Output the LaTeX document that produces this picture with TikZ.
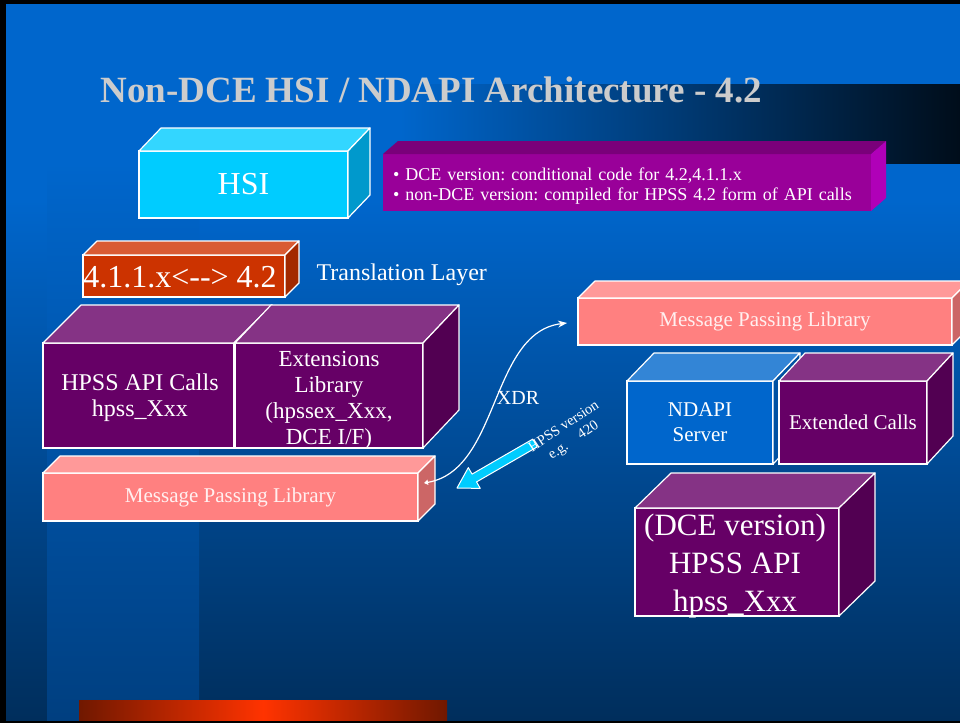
\documentclass[tikz,border=0pt]{standalone}
\usepackage{fontspec}
\setmainfont{Liberation Serif}
\usetikzlibrary{calc,arrows.meta}
\frenchspacing

\definecolor{slideblue}{HTML}{0066CC}
\definecolor{slidedeep}{HTML}{002E5C}
\definecolor{bandlow}{HTML}{003F80}
\definecolor{titlenight}{HTML}{000D1A}
\definecolor{titlegray}{HTML}{CCCCCC}
\definecolor{hsicyan}{HTML}{00CCFF}
\definecolor{hsitop}{HTML}{33D6FF}
\definecolor{hsiside}{HTML}{0099CC}
\definecolor{notemag}{HTML}{990099}
\definecolor{notetop}{HTML}{7A007A}
\definecolor{noteside}{HTML}{B000B8}
\definecolor{transred}{HTML}{CC3300}
\definecolor{transtop}{HTML}{D95B33}
\definecolor{transside}{HTML}{A32900}
\definecolor{apipurple}{HTML}{660066}
\definecolor{apitop}{HTML}{853385}
\definecolor{apiside}{HTML}{520052}
\definecolor{pinkfront}{HTML}{FF8080}
\definecolor{pinktop}{HTML}{FF9999}
\definecolor{pinkside}{HTML}{CC6666}
\definecolor{pinktext}{HTML}{FFF0F0}
\definecolor{ndapiblue}{HTML}{0066CC}
\definecolor{ndapitop}{HTML}{3385D6}
\definecolor{ndapiside}{HTML}{0052A3}
\definecolor{bardark}{HTML}{701800}
\definecolor{barbright}{HTML}{FF3300}

\tikzset{
  face/.style={draw=white, line width=1.2pt, line join=round},
  noline/.style={draw=none},
  cube/.style={rectangle, draw=white, line width=1.2pt, outer sep=0pt, inner sep=0pt,
    text=white, align=center},
  boxtext/.style={text=white, align=center, inner sep=0pt},
}

% top and right faces of a box node: name, top colour, side colour, dx, dy
\newcommand{\cubefaces}[6][face]{%
  \filldraw[#1, fill=#3] (#2.north west) -- ++(#5,#6) -- ($(#2.north east)+(#5,#6)$) -- (#2.north east) -- cycle;
  \filldraw[#1, fill=#4] (#2.north east) -- ++(#5,#6) -- ($(#2.south east)+(#5,#6)$) -- (#2.south east) -- cycle;
}

\begin{document}
\begin{tikzpicture}[x=1pt, y=-1pt]
    \useasboundingbox (0,0) rectangle (960,723);

    % slide background
    \fill[black] (0,0) rectangle (960,723);
    \fill[slideblue] (6,4) rectangle (960,200);
    \shade[top color=slideblue, bottom color=slidedeep] (6,200) rectangle (960,720);
    \shade[top color=slideblue, bottom color=bandlow] (47,163) rectangle (199,720);
    \shade[left color=slideblue, right color=titlenight] (400,84) rectangle (960,163);
    \shade[left color=bardark, right color=bardark, middle color=barbright] (79,700) rectangle (447,720);

    % title
    \node[anchor=base west, font=\bfseries\fontsize{37}{40}\selectfont, text=titlegray] (title) at (97,102) {Non-DCE HSI / NDAPI Architecture - 4.2};

    % client side
    \node[cube, fill=hsicyan, minimum width=209pt, minimum height=67pt, font=\fontsize{32}{36}\selectfont] (hsi) at (243.5,184.5) {HSI};
    \cubefaces{hsi}{hsitop}{hsiside}{22}{-23}

    \node[cube, draw=none, fill=notemag, minimum width=488pt, minimum height=57pt] (note) at (627,182.5) {};
    \cubefaces[noline]{note}{notetop}{noteside}{15}{-13}
    \node[boxtext, text width=472pt, align=left, font=\fontsize{18}{20}\selectfont] (notetxt) at (629,186) {\textbullet{} DCE version: conditional code for 4.2,4.1.1.x\\\textbullet{} non-DCE version: compiled for HPSS 4.2 form of API calls};

    \node[cube, fill=transred, minimum width=202pt, minimum height=42pt] (trans) at (184,276) {};
    \cubefaces{trans}{transtop}{transside}{14}{-14}
    \node[boxtext, font=\fontsize{32}{34}\selectfont] (transtxt) at (180,277) {4.1.1.x<-{}-> 4.2};
    \node[anchor=base west, text=white, font=\fontsize{24}{26}\selectfont] (translbl) at (313,280) {Translation Layer};

    \node[cube, fill=apipurple, minimum width=191pt, minimum height=105pt] (hpss) at (138.5,395.5) {};
    \cubefaces{hpss}{apitop}{apiside}{38}{-38}
    \node[boxtext, font=\fontsize{24}{26}\selectfont] (hpsstxt) at (140,398) {HPSS API Calls\\hpss\_Xxx};
    \node[cube, fill=apipurple, minimum width=188pt, minimum height=105pt] (ext) at (329,395.5) {};
    \cubefaces{ext}{apitop}{apiside}{36}{-38}
    \node[boxtext, font=\fontsize{23}{26}\selectfont] (exttxt) at (329,400) {Extensions\\Library\\(hpssex\_Xxx,\\DCE I/F)};

    \node[cube, fill=pinkfront, text=pinktext, minimum width=375pt, minimum height=48pt, font=\fontsize{21}{22}\selectfont] (mpl) at (230.5,497) {Message Passing Library};
    \cubefaces{mpl}{pinktop}{pinkside}{17}{-17}

    % server side
    \node[cube, fill=pinkfront, text=pinktext, minimum width=374pt, minimum height=47pt, font=\fontsize{21}{22}\selectfont] (mpr) at (765,321.5) {Message Passing Library};
    \cubefaces{mpr}{pinktop}{pinkside}{17}{-17}

    \node[cube, fill=ndapiblue, minimum width=146pt, minimum height=83pt, font=\fontsize{21}{25}\selectfont] (ndapi) at (700,422.5) {NDAPI\\Server};
    \cubefaces{ndapi}{ndapitop}{ndapiside}{27}{-28}
    \node[cube, fill=apipurple, minimum width=148pt, minimum height=83pt, font=\fontsize{21}{25}\selectfont] (extc) at (853,422.5) {Extended Calls};
    \cubefaces{extc}{apitop}{apiside}{26}{-28}

    \node[cube, fill=apipurple, minimum width=204pt, minimum height=108pt] (dce) at (737,562) {};
    \cubefaces{dce}{apitop}{apiside}{36}{-35}
    \node[boxtext, font=\fontsize{31}{38}\selectfont] (dcetxt) at (735,566) {(DCE version)\\HPSS API\\hpss\_Xxx};

    % XDR link
    \coordinate (xs) at (424,483);
    \coordinate (xe) at (567,323);
    \draw[white, line width=1.2pt, {Triangle[length=4pt,width=5pt]}-{Stealth[length=9pt,width=7pt]}] (xs) .. controls (500,470) and (490,332) .. (xe);
    \node[text=white, font=\fontsize{20}{22}\selectfont] (xdr) at (518,398) {XDR};

    % version arrow
    \filldraw[draw=white, fill=hsicyan, line width=1pt, line join=round]
      (532.75,439.1) -- (472.05,474.1) -- (468.3,467.6) -- (457,488)
      -- (480.3,488.4) -- (476.55,481.9) -- (537.25,446.9) -- cycle;
    \node[text=white, rotate=34, align=center, font=\fontsize{14.5}{17}\selectfont] (verlbl) at (569,434) {HPSS version\\e.g.\quad 420};
\end{tikzpicture}
\end{document}
